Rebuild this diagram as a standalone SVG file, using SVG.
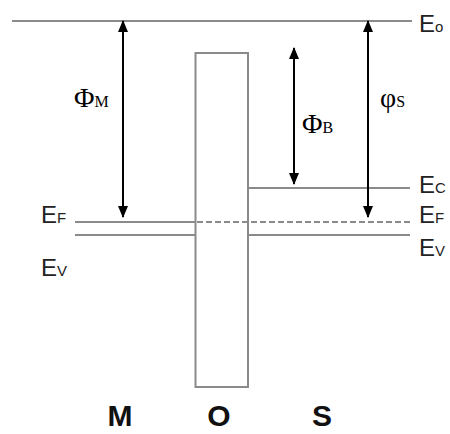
<svg xmlns="http://www.w3.org/2000/svg" width="450" height="434" viewBox="0 0 450 434">
<style>
.lvl{stroke:#8a8a8a;stroke-width:2;fill:none}
.dash{stroke:#8a8a8a;stroke-width:2;stroke-dasharray:6,3;fill:none}
.arr{stroke:#000;stroke-width:2;fill:none;marker-start:url(#ah);marker-end:url(#ah)}
.e{font-family:"Liberation Sans",Arial,sans-serif;font-size:24px;fill:#222}
.es{font-size:15px}
.g{font-family:"Liberation Serif","Times New Roman",serif;font-size:28px;fill:#000}
.gs{font-size:16px}
.mos{font-family:"Liberation Sans",Arial,sans-serif;font-size:30px;font-weight:bold;fill:#111;text-anchor:middle}
</style>
<defs>
<marker id="ah" viewBox="0 0 12 10" refX="11" refY="5" markerWidth="6" markerHeight="5" orient="auto-start-reverse" markerUnits="strokeWidth">
<path d="M0,0 L12,5 L0,10 Z" fill="#000"/>
</marker>
</defs>
<rect width="450" height="434" fill="#fff"/>
<g id="levels">
<line class="lvl" x1="12" y1="21" x2="412" y2="21"/>
<line class="lvl" x1="75" y1="222" x2="196" y2="222"/>
<line class="dash" x1="197" y1="222" x2="410" y2="222"/>
<line class="lvl" x1="75" y1="235" x2="195" y2="235"/>
<line class="lvl" x1="248" y1="188" x2="410" y2="188"/>
<line class="lvl" x1="248" y1="235" x2="410" y2="235"/>
</g>
<g id="oxide">
<rect x="195.5" y="53" width="52.5" height="334" fill="none" stroke="#8a8a8a" stroke-width="2"/>
</g>
<g id="connectors">
<line class="arr" x1="123" y1="21" x2="123" y2="217"/>
<line class="arr" x1="294" y1="48" x2="294" y2="184"/>
<line class="arr" x1="368" y1="21" x2="368" y2="217"/>
</g>
<g id="labels">
<text class="e" x="419" y="32">E<tspan class="es">o</tspan></text>
<text class="e" x="41" y="223">E<tspan class="es">F</tspan></text>
<text class="e" x="41" y="276">E<tspan class="es">V</tspan></text>
<text class="e" x="419" y="193">E<tspan class="es">C</tspan></text>
<text class="e" x="419" y="223">E<tspan class="es">F</tspan></text>
<text class="e" x="419" y="256">E<tspan class="es">V</tspan></text>
<text class="g" x="74" y="107">Φ<tspan class="gs">M</tspan></text>
<text class="g" x="302" y="133">Φ<tspan class="gs">B</tspan></text>
<text class="g" x="380" y="107">φ<tspan class="gs">S</tspan></text>
<text class="mos" x="120" y="426">M</text>
<text class="mos" x="219" y="426">O</text>
<text class="mos" x="322" y="426">S</text>
</g>
</svg>
